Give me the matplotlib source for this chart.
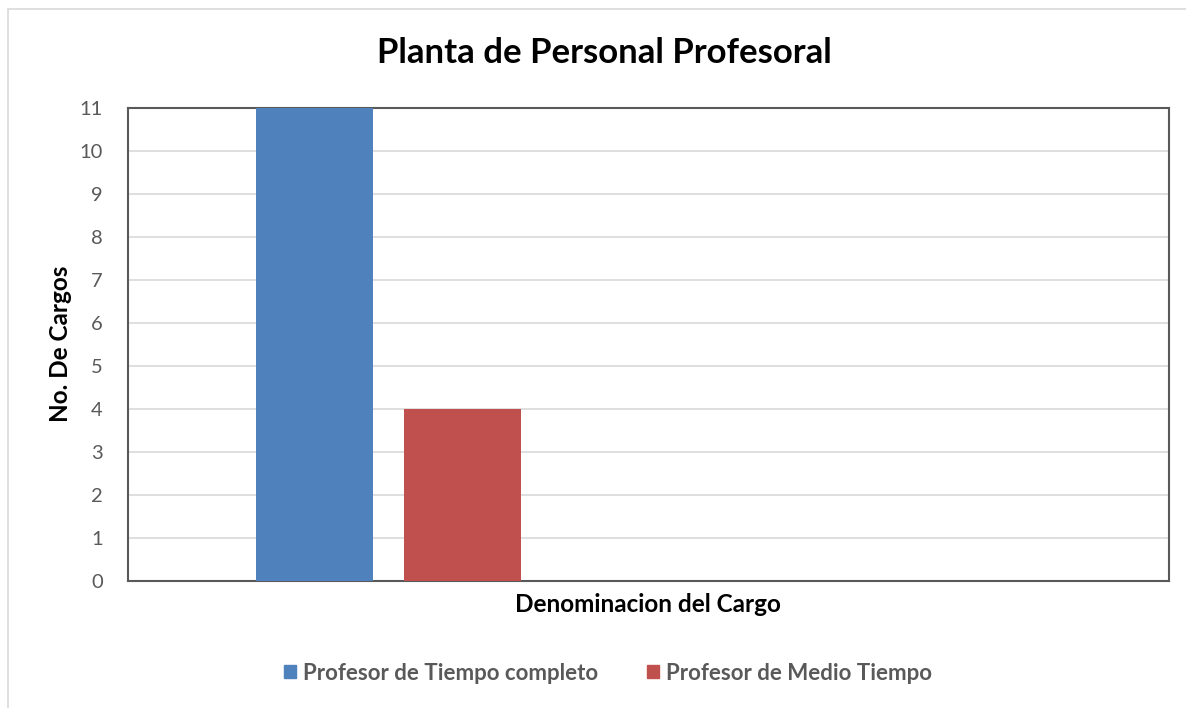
import matplotlib
matplotlib.use("Agg")
import matplotlib.pyplot as plt
from matplotlib.patches import Rectangle, Patch

plt.rcParams['font.family'] = ['Lato', 'DejaVu Sans']

series = ["Profesor de Tiempo completo", "Profesor de Medio Tiempo"]
values = [11, 4]
colors = ["#4f81bd", "#c0504d"]
yticks = list(range(0, 12))

fig = plt.figure(figsize=(11.86, 7.08), dpi=100)
ax = fig.add_axes([128 / 1186, 1 - 581 / 708, (1169 - 128) / 1186, (581 - 108) / 708])

# outer chart frame
fig.patches.append(Rectangle((8 / 1186, -0.01), 1.02, 1 - 9 / 708 + 0.01,
                             transform=fig.transFigure, fill=False,
                             edgecolor="#d9d9d9", linewidth=1.2))

positions = list(range(len(values)))
ax.bar(positions, values, width=0.79, color=colors, zorder=3)

ax.set_xlim(-1.26, 5.77)
ax.set_ylim(0, 11)
ax.set_yticks(yticks)
ax.set_xticks([])
ax.grid(axis="y", color="#d9d9d9", linewidth=1.2, zorder=0)
for s in ax.spines.values():
    s.set_color("#595959")
    s.set_linewidth(1.5)
ax.tick_params(axis="y", length=0, pad=18, labelsize=14.5, labelcolor="#595959")

fig.text(604 / 1186, 1 - 53 / 708, "Planta de Personal Profesoral", ha="center",
         va="center", fontsize=25, fontweight="bold")
fig.text(60 / 1186, 1 - 344 / 708, "No. De Cargos", rotation=90, ha="center",
         va="center", fontsize=17.5, fontweight="bold")
fig.text(648 / 1186, 1 - 604 / 708, "Denominacion del Cargo", ha="center",
         va="center", fontsize=17.5, fontweight="bold")

handles = [Patch(color=c, label=l) for c, l in zip(colors, series)]
fig.legend(handles=handles, loc="center", bbox_to_anchor=(608 / 1186, 1 - 673 / 708),
           ncol=2, frameon=False, handlelength=0.55, handleheight=0.55,
           handletextpad=0.3, columnspacing=2.2,
           prop={"size": 16, "weight": "bold"}, labelcolor="#595959")

fig.savefig("out.png", dpi=100)
